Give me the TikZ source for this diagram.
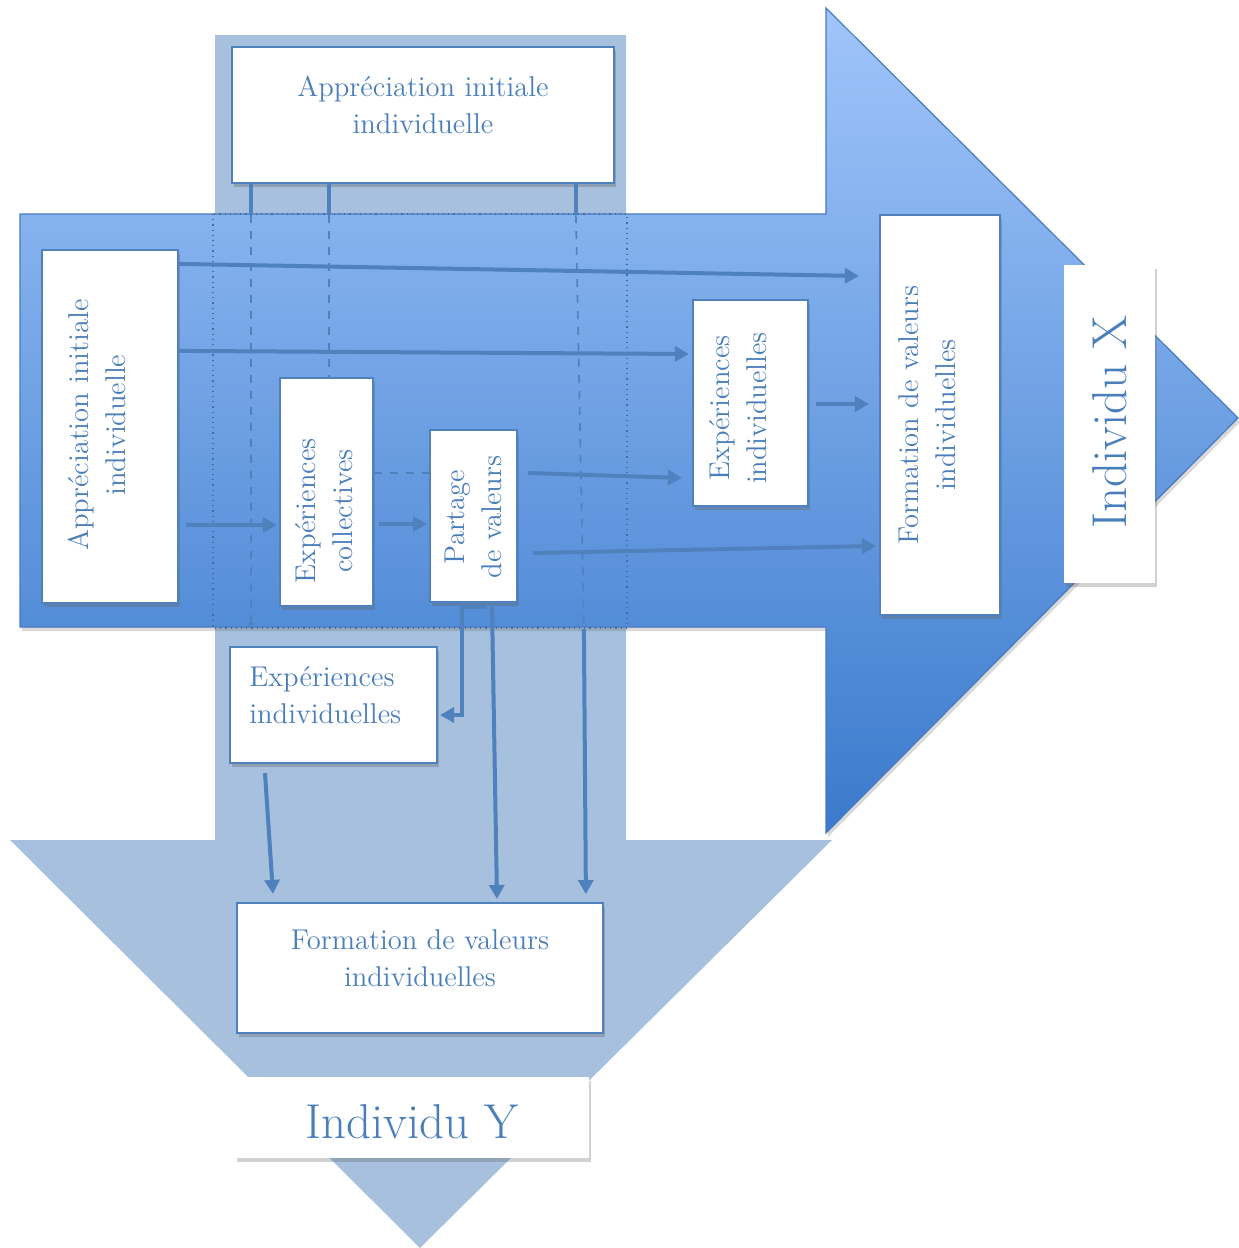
\documentclass[tikz,border=0pt]{standalone}
\usepackage{graphicx}
\usetikzlibrary{arrows.meta,calc,shadows}

\definecolor{ybody}{RGB}{167,192,222}
\definecolor{xtop}{RGB}{160,197,250}
\definecolor{xbot}{RGB}{58,122,204}
\definecolor{xline}{RGB}{72,122,192}
\definecolor{edge}{RGB}{79,129,189}
\definecolor{ink}{RGB}{74,126,187}

% vertical (bottom-to-top) multi-line label
\newcommand\turned[1]{\rotatebox{90}{\begin{tabular}{@{}c@{}}#1\end{tabular}}}

\begin{document}
\begin{tikzpicture}[x=0.5pt,y=-0.5pt,
  wbox/.style={draw=edge, line width=1.1pt, fill=white, inner sep=0pt,
    drop shadow={shadow xshift=1.2pt, shadow yshift=-1.8pt, opacity=.35, fill=black!60}},
  pbox/.style={fill=white, inner sep=0pt,
    drop shadow={shadow xshift=1.2pt, shadow yshift=-1.8pt, opacity=.3, fill=black!60}},
  txt/.style={text=ink, font=\fontsize{14.3}{18.5}\selectfont, align=center, inner sep=0pt},
  vtxt/.style={text=ink, font=\fontsize{14.3}{18.5}\selectfont, inner sep=0pt},
  big/.style={text=ink, font=\fontsize{24.5}{29}\selectfont, inner sep=0pt},
  conn/.style={draw=edge, line width=2pt, -{Triangle[length=7pt,width=7.5pt]}},
  stub/.style={draw=edge, line width=2.2pt},
  guide/.style={draw=edge, line width=0.8pt, dash pattern=on 4pt off 4pt},
]
\useasboundingbox (0,0) rectangle (1238,1248);

% downward arrow (Individu Y)
\fill[ybody] (215,35) -- (626,35) -- (626,840) -- (832,840) -- (420,1248)
  -- (10,840) -- (215,840) -- cycle;

% rightward arrow (Individu X)
\path[draw=xline, line width=0.6pt, top color=xtop, bottom color=xbot,
  drop shadow={shadow xshift=1pt, shadow yshift=-2pt, opacity=.25, fill=black!60}]
  (20,214) -- (826,214) -- (826,8) -- (1238,418) -- (826,833) -- (826,627)
  -- (20,627) -- cycle;

% crossing zone of the two arrows
\draw[edge!85!black, dotted, line width=0.6pt] (213,214) rectangle (627,628);

% boxes
\node[wbox, minimum width=191pt, minimum height=68pt] (top) at (423,115) {};
\node[txt] (topt) at (423,105) {Appréciation initiale\\individuelle};

\node[wbox, minimum width=68pt, minimum height=176.5pt] (ail) at (110,426.5) {};
\node[vtxt] (ailt) at (100,425) {\turned{Appréciation initiale\\individuelle}};

\node[wbox, minimum width=46.5pt, minimum height=114pt] (ecol) at (326.5,492) {};
\node[vtxt] (ecolt) at (327,511) {\turned{Expériences\\collectives}};

\node[wbox, minimum width=43.5pt, minimum height=86pt] (part) at (473.5,516) {};
\node[vtxt] (partt) at (476,517) {\turned{Partage\\de valeurs}};

\node[wbox, minimum width=57.5pt, minimum height=103pt] (eir) at (750.5,403) {};
\node[vtxt] (eirt) at (741,408) {\turned{Expériences\\individuelles}};

\node[wbox, minimum width=60pt, minimum height=200pt] (fvr) at (940,415) {};
\node[vtxt] (fvrt) at (930,415) {\turned{Formation de valeurs\\individuelles}};

\node[pbox, minimum width=45.5pt, minimum height=159pt] (ix) at (1109.5,424) {};
\node[big] (ixt) at (1110,422) {\rotatebox{90}{Individu X}};

\node[wbox, minimum width=103.5pt, minimum height=58pt] (eib) at (333.5,705) {};
\node[txt, align=left, anchor=west] (eibt) at (249,695) {Expériences\\individuelles};

\node[wbox, minimum width=183pt, minimum height=65pt] (fvb) at (420,968) {};
\node[txt] (fvbt) at (420,958) {Formation de valeurs\\individuelles};

\node[pbox, minimum width=177pt, minimum height=40.5pt] (iy) at (412,1117.5) {};
\node[big] (iyt) at (412,1122) {Individu Y};

% links from the top box into the crossing zone
\draw[stub] ($(top.south west)+(20,0)$) -- ++(0,31) coordinate (s1);
\draw[stub] ($(top.south west)+(98,0)$) -- ++(0,31) coordinate (s2);
\draw[stub] ($(top.south west)+(345,0)$) -- ++(0,31) coordinate (s3);
\draw[guide, -{Triangle[length=3pt,width=3pt]}] (s1) -- ++(0,414);
\draw[guide] (s2) -- (s2 |- ecol.north);
\draw[guide] (s3) -- ++(8,414) coordinate (s3b);
\draw[conn] (s3b) -- ++(2,265);

\draw[guide] ($(ecol.east)+(0,-19)$) -- ($(part.west)+(0,-43)$);

% links between boxes
\draw[conn] ($(ail.north east)+(0,15)$) -- ($(fvr.west)+(-20,-139)$);
\draw[conn] ($(ail.north east)+(0,102)$) -- ($(eir.west)+(-3,-49)$);
\draw[conn] ($(ail.east)+(7,98.5)$) -- ($(ecol.west)+(-2,33)$);
\draw[conn] ($(ecol.east)+(5,32)$) -- ($(part.west)+(-2,8)$);
\draw[conn] ($(part.east)+(10,-43)$) -- ($(eir.west)+(-10,75)$);
\draw[conn] ($(part.east)+(15,37)$) -- ($(fvr.west)+(-3,131)$);
\draw[conn] ($(eir.east)+(7,1)$) -- ($(fvr.west)+(-10,-11)$);
\draw[conn] ($(part.south)+(13.5,4)$) -- ++(-25,0) |- ($(eib.east)+(2,10)$);
\draw[conn] ($(part.south)+(18.5,4)$) -- ($(fvb.north)+(77,-3)$);
\draw[conn] ($(eib.south)+(-68.5,9)$) -- ($(fvb.north)+(-147,-8)$);
\end{tikzpicture}
\end{document}
